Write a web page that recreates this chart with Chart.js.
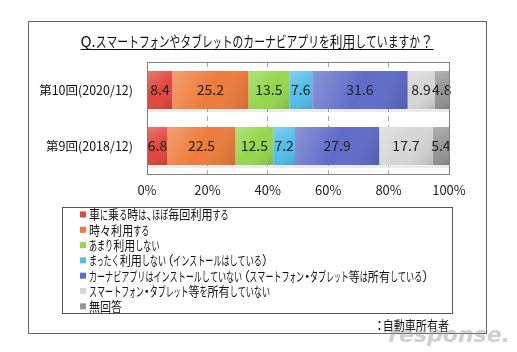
<!DOCTYPE html>
<html>
<head>
<meta charset="utf-8">
<script src="https://cdn.jsdelivr.net/npm/chart.js@4/dist/chart.umd.min.js"></script>
<style>
  html, body { margin: 0; padding: 0; background: #fff; }
  #wrap { width: 517px; height: 352px; position: relative; }
</style>
</head>
<body>
<div id="wrap"><canvas id="chart" width="517" height="352"></canvas></div>
<script>
// Survey rounds (rows) and answer categories
const rounds = ['第10回(2020/12)', '第9回(2018/12)'];
const answers = [
    '車に乗る時は、ほぼ毎回利用する',
    '時々利用する',
    'あまり利用しない',
    'まったく利用しない（インストールはしている）',
    'カーナビアプリはインストールしていない（スマートフォン・タブレット等は所有している）',
    'スマートフォン・タブレット等を所有していない',
    '無回答'
];
// percentages per answer, [2020, 2018]
const everyTime = [8.4, 6.8];
const sometimes = [25.2, 22.5];
const rarely = [13.5, 12.5];
const never = [7.6, 7.2];
const notInstalled = [31.6, 27.9];
const noDevice = [8.9, 17.7];
const noAnswer = [4.8, 5.4];
const tickValues = [0, 20, 40, 60, 80, 100];

const titleText = 'Q.スマートフォンやタブレットのカーナビアプリを利用していますか？';
const noteText = '：自動車所有者';

const colors = ['#e2453b', '#ee7b3a', '#94d64c', '#52bde9', '#5e6cc9', '#d6d6d6', '#959595'];
const seriesValues = [everyTime, sometimes, rarely, never, notInstalled, noDevice, noAnswer];

const jpFont = '"Noto Sans CJK JP", "Noto Sans", sans-serif';

// rough proportional-font look: kana and punctuation narrower than kanji
const legendWidths = { kanji: 0.85, kana: 0.62, small: 0.5, paren: 0.55, punct: 0.45 };
const titleWidths = { kanji: 0.85, kana: 0.72, small: 0.6, paren: 0.6, punct: 0.9 };
const smallKana = 'ァィゥェォッャュョぁぃぅぇぉっゃゅょ';

const charWidth = (ch, size, f) => {
    const c = ch.charCodeAt(0);
    if (c < 0x80) return null;                          // latin: natural width
    if ((c >= 0x4e00 && c <= 0x9fff) || ch === '々') return size * f.kanji;
    if (ch === '（' || ch === '）') return size * f.paren;
    if ('・、：？'.includes(ch)) return size * f.punct;
    if (smallKana.includes(ch)) return size * f.small;
    return size * f.kana;
};

const condensedWidth = (ctx, text, size, f) => {
    let w = 0;
    for (const ch of text) {
        const cw = charWidth(ch, size, f);
        w += cw === null ? ctx.measureText(ch).width : cw;
    }
    return w;
};

const drawCondensed = (ctx, text, x, y, size, align, f) => {
    const total = condensedWidth(ctx, text, size, f);
    let cx = align === 'center' ? x - total / 2 : align === 'right' ? x - total : x;
    ctx.save();
    ctx.textAlign = 'left';
    for (const ch of text) {
        const cw = charWidth(ch, size, f);
        const natural = ctx.measureText(ch).width;
        if (cw === null) {
            ctx.fillText(ch, cx, y);
            cx += natural;
            continue;
        }
        if (ch === '（') {
            ctx.fillText(ch, cx - size * 0.4, y);
        } else if (ch === '）' || ch === '、' || ch === '：') {
            ctx.fillText(ch, cx - (ch === '：' ? size * 0.3 : 0), y);
        } else if (ch === '・') {
            ctx.fillText(ch, cx - size * 0.27, y);
        } else {
            ctx.fillText(ch, cx, y, cw);
        }
        cx += cw;
    }
    ctx.restore();
    return total;
};

// outer frame, plot frame, title, legend box and note
const decorPlugin = {
    id: 'decor',
    beforeDraw(chart) {
        const ctx = chart.ctx;
        ctx.save();
        ctx.strokeStyle = '#666';
        ctx.lineWidth = 1;
        ctx.strokeRect(28.5, 21.5, 458, 312);
        ctx.restore();
    },
    afterDraw(chart) {
        const ctx = chart.ctx;
        const a = chart.chartArea;
        ctx.save();
        // plot area frame
        ctx.strokeStyle = '#808080';
        ctx.lineWidth = 1;
        ctx.strokeRect(Math.round(a.left) + 0.5, Math.round(a.top) + 0.5,
            Math.round(a.right - a.left), Math.round(a.bottom - a.top));

        // title
        ctx.font = '15px ' + jpFont;
        ctx.fillStyle = '#111';
        ctx.textBaseline = 'middle';
        const w = drawCondensed(ctx, titleText, 257, 41, 15, 'center', titleWidths);
        ctx.fillRect(257 - w / 2, 49, w, 1);

        // legend box
        ctx.strokeStyle = '#555';
        ctx.strokeRect(62.5, 207.5, 390, 106);
        ctx.font = '13px ' + jpFont;
        chart.data.datasets.forEach((ds, i) => {
            const y = 214.5 + i * 15.3;
            ctx.fillStyle = ds.backgroundColor;
            ctx.fillRect(80, y - 3, 6, 6);
            ctx.fillStyle = '#111';
            drawCondensed(ctx, ds.label, 89, y, 13, 'left', legendWidths);
        });

        // note
        drawCondensed(ctx, noteText, 449, 325, 13, 'right', legendWidths);

        // watermark
        ctx.textAlign = 'right';
        ctx.font = 'italic bold 22px "DejaVu Sans", sans-serif';
        ctx.fillStyle = 'rgba(160,160,160,0.5)';
        ctx.fillText('response.', 510, 336);
        ctx.restore();
    }
};

// value labels and shading on the bars
const barLabelPlugin = {
    id: 'barLabels',
    afterDatasetsDraw(chart) {
        const ctx = chart.ctx;
        ctx.save();
        chart.data.datasets.forEach((ds, di) => {
            const meta = chart.getDatasetMeta(di);
            meta.data.forEach((bar, i) => {
                const left = Math.min(bar.base, bar.x);
                const right = Math.max(bar.base, bar.x);
                const top = bar.y - bar.height / 2;
                const bottom = bar.y + bar.height / 2;
                // shading: lighter top-left, darker bottom-right
                const g = ctx.createLinearGradient(left, top, right, bottom);
                g.addColorStop(0, 'rgba(255,255,255,0.28)');
                g.addColorStop(0.5, 'rgba(255,255,255,0)');
                g.addColorStop(1, 'rgba(0,0,0,0.14)');
                ctx.fillStyle = g;
                ctx.fillRect(left, top, right - left, bottom - top);
                // soft shadow under the bar
                ctx.fillStyle = 'rgba(0,0,0,0.08)';
                ctx.fillRect(left, bottom, right - left, 3);

                ctx.font = '14px ' + jpFont;
                ctx.fillStyle = '#222';
                ctx.textAlign = 'center';
                ctx.textBaseline = 'middle';
                ctx.fillText(ds.data[i].toFixed(1), (left + right) / 2, bar.y);
            });
        });
        ctx.restore();
    }
};

new Chart(document.getElementById('chart'), {
    type: 'bar',
    data: {
        labels: rounds,
        datasets: answers.map((label, i) => ({
            label: label,
            data: seriesValues[i],
            backgroundColor: colors[i],
            borderWidth: 0,
            barPercentage: 0.68,
            categoryPercentage: 1
        }))
    },
    options: {
        indexAxis: 'y',
        responsive: false,
        animation: false,
        layout: { padding: { left: 0, right: 68, top: 62, bottom: 148 } },
        plugins: {
            legend: { display: false },
            tooltip: { enabled: false }
        },
        scales: {
            x: {
                stacked: true,
                min: 0,
                max: 100,
                afterBuildTicks: (scale) => {
                    scale.ticks = tickValues.map(v => ({ value: v }));
                },
                afterFit: (scale) => { scale.height = 30; },
                ticks: {
                    color: '#222',
                    padding: 8,
                    font: { family: jpFont, size: 13 },
                    callback: (v) => v + '%'
                },
                grid: {
                    color: '#a8a8a8',
                    drawTicks: false
                },
                border: { display: false, dash: [5, 4] }
            },
            y: {
                stacked: true,
                afterFit: (scale) => { scale.width = 147; },
                ticks: {
                    color: '#111',
                    padding: 14,
                    font: { family: jpFont, size: 12.5 }
                },
                grid: { display: false, drawTicks: false },
                border: { display: false }
            }
        }
    },
    plugins: [decorPlugin, barLabelPlugin]
});
</script>
</body>
</html>
